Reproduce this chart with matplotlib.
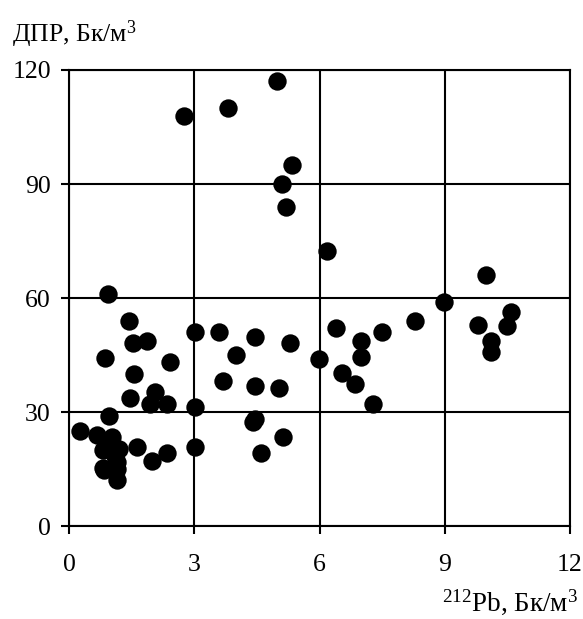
import matplotlib
matplotlib.use("Agg")
import matplotlib.pyplot as plt

plt.rcParams['font.family'] = ['Liberation Serif', 'DejaVu Serif']
plt.rcParams['mathtext.fontset'] = 'custom'
plt.rcParams['mathtext.rm'] = 'Liberation Serif'
plt.rcParams['mathtext.it'] = 'Liberation Serif'

pb212 = [0.93, 1.44, 1.53, 1.88, 0.87, 2.43, 1.56, 3.01, 3.60, 4.45, 4.00, 3.70,
         4.45, 1.45, 2.07, 1.94, 2.34, 3.01, 0.97, 0.26, 0.66, 1.02, 0.82, 1.20,
         1.62, 2.34, 1.99, 3.01, 0.82, 1.14, 1.16, 0.85, 1.15, 0.95, 1.10,
         5.29, 6.40, 6.99, 7.49, 8.29, 5.99, 6.99, 6.55, 6.85, 7.29, 5.04,
         4.41, 4.46, 5.13, 4.59,
         2.75, 3.80, 4.99, 5.34, 5.09, 5.20, 6.19,
         9.99, 8.99, 9.79, 10.59, 10.48, 10.10, 10.10]
dpr = [61.0, 54.0, 48.2, 48.6, 44.2, 43.1, 40.1, 51.2, 51.2, 49.9, 45.0, 38.1,
       36.9, 33.8, 35.2, 32.1, 32.2, 31.5, 29.1, 25.1, 24.0, 23.4, 20.1, 20.4,
       20.8, 19.4, 17.1, 20.9, 15.3, 17.0, 12.3, 14.8, 15.2, 21.5, 18.5,
       48.2, 52.1, 48.6, 51.0, 54.1, 44.0, 44.6, 40.3, 37.4, 32.2, 36.5,
       27.3, 28.3, 23.6, 19.4,
       108.0, 110.0, 117.0, 95.0, 90.0, 84.0, 72.5,
       66.1, 59.1, 53.0, 56.3, 52.7, 48.8, 45.9]

x_ticks = [0, 3, 6, 9, 12]
y_ticks = [0, 30, 60, 90, 120]

fig = plt.figure(figsize=(5.83, 6.19), dpi=100)
ax = fig.add_axes([69/583, 1-526.3/619, (570-69)/583, (526.3-70)/619])
ax.scatter(pb212, dpr, s=175, color='black', zorder=3, linewidths=0, clip_on=False)
ax.set_xlim(0, 12)
ax.set_ylim(0, 120)
ax.set_xticks(x_ticks)
ax.set_yticks(y_ticks)
ax.grid(True, color='black', linewidth=1.5)
for sp in ax.spines.values():
    sp.set_linewidth(1.5)
    sp.set_color('black')
ax.tick_params(axis='both', direction='out', length=6, width=1.5, labelsize=18.5)
ax.tick_params(axis='y', pad=7)
ax.tick_params(axis='x', pad=14)

fig.text(12/583, 1-42/619, 'ДПР, Бк/м$^{3}$', fontsize=18.5, ha='left', va='baseline')
fig.text(578/583, 1-611/619, '$^{212}$Pb, Бк/м$^{3}$', fontsize=19.5, ha='right', va='baseline')

fig.savefig('out.png', dpi=100)
